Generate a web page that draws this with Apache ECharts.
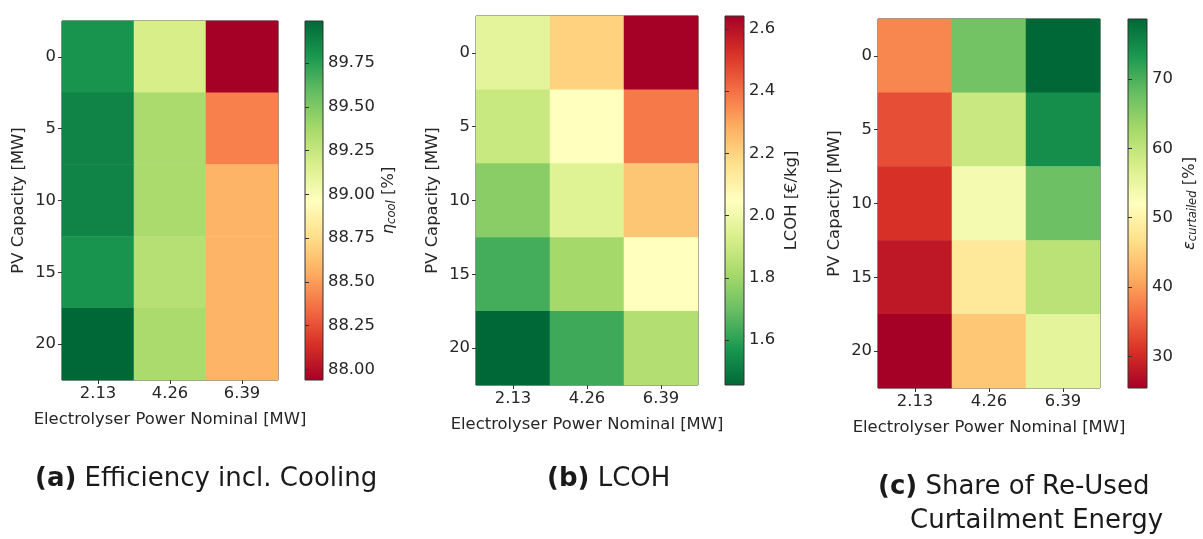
<!DOCTYPE html>
<html>
<head>
<meta charset="utf-8">
<script src="https://cdn.jsdelivr.net/npm/echarts@6/dist/echarts.min.js"></script>
<style>
html,body{margin:0;padding:0;background:#fff;}
#c{width:1203px;height:539px;}
</style>
</head>
<body>
<div id="c"></div>
<script>
// ---- data ----
const electrolyserPower = ['2.13', '4.26', '6.39'];
const pvCapacity = ['0', '5', '10', '15', '20'];
// rows: PV capacity (0..20), columns: electrolyser power
const efficiencyCool = [
  [89.80, 89.18, 87.94],
  [89.87, 89.36, 88.41],
  [89.87, 89.36, 88.58],
  [89.80, 89.31, 88.58],
  [89.99, 89.36, 88.58]
];
const lcoh = [
  [1.965, 2.20, 2.642],
  [1.89, 2.05, 2.38],
  [1.76, 1.95, 2.23],
  [1.64, 1.81, 2.05],
  [1.455, 1.63, 1.84]
];
const curtailedShare = [
  [38.2, 66.9, 78.6],
  [33.5, 59.0, 74.4],
  [30.8, 53.6, 67.4],
  [28.2, 48.3, 60.5],
  [25.5, 44.1, 55.8]
];
const effTicks = [88.00, 88.25, 88.50, 88.75, 89.00, 89.25, 89.50, 89.75];
const lcohTicks = [1.6, 1.8, 2.0, 2.2, 2.4, 2.6];
const curtTicks = [30, 40, 50, 60, 70];
const effRange = [87.94, 89.99];
const lcohRange = [1.455, 2.642];
const curtRange = [25.5, 78.6];

const RdYlGn = ['#a50026','#d73027','#f46d43','#fdae61','#fee08b','#ffffbf','#d9ef8b','#a6d96a','#66bd63','#1a9850','#006837'];
const RdYlGn_r = RdYlGn.slice().reverse();

function toCells(m) {
  const out = [];
  m.forEach((row, r) => row.forEach((v, c) => out.push([c, r, v])));
  return out;
}
function gradient(colors) {
  return {
    type: 'linear', x: 0, y: 1, x2: 0, y2: 0,
    colorStops: colors.map((c, i) => ({ offset: i / (colors.length - 1), color: c }))
  };
}

const FONT = '"DejaVu Sans", sans-serif';
const TXT = '#262626';
const FS = 16.4;
const lab = { fontFamily: FONT, fontSize: FS, color: TXT };

const panels = [
  { data: efficiencyCool, range: effRange, ticks: effTicks, colors: RdYlGn, dec: 2,
    grid: { left: 62, top: 21, width: 216, height: 359 },
    cbar: { left: 305, top: 21, width: 18, height: 359 },
    cname: '{i|η}{s|cool} [%]', cgap: 56, ygap: 35 },
  { data: lcoh, range: lcohRange, ticks: lcohTicks, colors: RdYlGn_r, dec: 1,
    grid: { left: 476, top: 16, width: 222, height: 369 },
    cbar: { left: 725, top: 16, width: 19, height: 369 },
    cname: 'LCOH [€/kg]', cgap: 40, ygap: 35 },
  { data: curtailedShare, range: curtRange, ticks: curtTicks, colors: RdYlGn, dec: 0,
    grid: { left: 878, top: 19, width: 222, height: 369 },
    cbar: { left: 1128, top: 19, width: 19, height: 369 },
    cname: '{i|ε}{s|curtailed} [%]', cgap: 33, ygap: 35 }
];

const option = {
  backgroundColor: '#fff',
  animation: false,
  grid: [], xAxis: [], yAxis: [], series: [], visualMap: [],
  graphic: []
};

panels.forEach((p, k) => {
  const gi = option.grid.length;
  option.grid.push(Object.assign({ show: true, borderColor: '#333', borderWidth: 1, backgroundColor: 'transparent' }, p.grid));
  option.xAxis.push({
    type: 'category', gridIndex: gi, data: electrolyserPower,
    name: 'Electrolyser Power Nominal [MW]', nameLocation: 'middle', nameGap: 32,
    nameTextStyle: lab,
    axisLine: { show: false },
    axisTick: { show: true, alignWithLabel: true, length: 4, lineStyle: { color: '#333' } },
    axisLabel: Object.assign({ margin: 6 }, lab),
    splitLine: { show: false }
  });
  option.yAxis.push({
    type: 'category', gridIndex: gi, data: pvCapacity, inverse: true,
    name: 'PV Capacity [MW]', nameLocation: 'middle', nameGap: p.ygap,
    nameTextStyle: lab,
    axisLine: { show: false },
    axisTick: { show: true, alignWithLabel: true, length: 4, lineStyle: { color: '#333' } },
    axisLabel: Object.assign({ margin: 6 }, lab),
    splitLine: { show: false }
  });
  option.series.push({
    type: 'heatmap', xAxisIndex: gi, yAxisIndex: gi,
    data: toCells(p.data), itemStyle: { borderWidth: 0 },
    emphasis: { disabled: true }
  });
  option.visualMap.push({
    type: 'continuous', show: false, seriesIndex: k, dimension: 2,
    min: p.range[0], max: p.range[1], inRange: { color: p.colors }
  });
  const ci = option.grid.length;
  option.grid.push(Object.assign({ show: true, borderColor: '#333', borderWidth: 1, backgroundColor: gradient(p.colors) }, p.cbar));
  option.xAxis.push({ type: 'value', gridIndex: ci, show: false, min: 0, max: 1 });
  option.yAxis.push({
    type: 'value', gridIndex: ci, position: 'right', min: p.range[0], max: p.range[1],
    name: p.cname, nameLocation: 'middle', nameGap: p.cgap, nameRotate: 90,
    nameTextStyle: Object.assign({}, lab, {
      rich: {
        i: { fontFamily: FONT, fontSize: FS, fontStyle: 'italic', color: TXT },
        s: { fontFamily: FONT, fontSize: 11.5, fontStyle: 'italic', color: TXT, padding: [7, 0, 0, 0] }
      }
    }),
    axisLine: { show: false },
    splitLine: { show: false },
    axisTick: { show: true, length: 4, lineStyle: { color: '#333' }, customValues: p.ticks },
    axisLabel: Object.assign({ margin: 5, customValues: p.ticks, formatter: v => Number(v).toFixed(p.dec) }, lab)
  });
});

const CF = '"DejaVu Sans", sans-serif';
const capStyle = { fontFamily: CF, fontSize: 26, fill: '#1a1a1a',
  rich: { b: { fontFamily: CF, fontSize: 26, fontWeight: 'bold', fill: '#1a1a1a' } } };
option.graphic = [
  { type: 'text', left: 35, top: 466, style: Object.assign({ text: '{b|(a)} Efficiency incl. Cooling' }, capStyle) },
  { type: 'text', left: 547, top: 466, style: Object.assign({ text: '{b|(b)} LCOH' }, capStyle) },
  { type: 'text', left: 878, top: 474, style: Object.assign({ text: '{b|(c)} Share of Re-Used' }, capStyle) },
  { type: 'text', left: 910, top: 508, style: Object.assign({ text: 'Curtailment Energy' }, capStyle) }
];

const chart = echarts.init(document.getElementById('c'), null, { renderer: 'canvas' });
chart.setOption(option);
</script>
</body>
</html>
